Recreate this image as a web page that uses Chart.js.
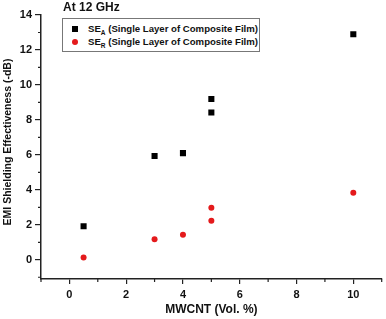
<!DOCTYPE html>
<html>
<head>
<meta charset="utf-8">
<script src="https://cdn.jsdelivr.net/npm/chart.js@4.4.0/dist/chart.umd.min.js"></script>
<style>
  body { margin: 0; background: #fff; }
  #wrap { position: relative; width: 386px; height: 319px; }
  #legendBox {
    position: absolute; left: 62px; top: 18px; width: 196px; height: 32px;
    border: 1px solid #777; background: #fff;
    font: bold 9.6px "Liberation Sans", Arial, sans-serif; color: #111;
  }
  .row { position: absolute; left: 0; height: 12px; line-height: 12px; white-space: nowrap; }
  .row span.txt { position: absolute; left: 25px; }
  .row sub { font-size: 6.5px; vertical-align: -3px; line-height: 0; }
  .mk { position: absolute; left: 9px; top: 3px; width: 6px; height: 6px; }
</style>
</head>
<body>
<div id="wrap">
  <canvas id="emiChart" width="386" height="319"></canvas>
  <div id="legendBox">
    <div class="row" style="top:4px"><div class="mk" style="background:#000"></div><span class="txt">SE<sub>A</sub> (Single Layer of Composite Film)</span></div>
    <div class="row" style="top:17px"><div class="mk" style="background:#e41a1c;border-radius:50%"></div><span class="txt">SE<sub>R</sub> (Single Layer of Composite Film)</span></div>
  </div>
</div>
<script>
// MWCNT loading (Vol. %)
const mwcnt = [0.5, 3, 4, 5, 5, 10];
// shielding by absorption / reflection (-dB)
const seA = [1.92, 5.94, 6.1, 8.42, 9.2, 12.9];
const seR = [0.13, 1.18, 1.43, 2.23, 2.97, 3.83];
const xTicks = [0, 2, 4, 6, 8, 10];
const yTicks = [0, 2, 4, 6, 8, 10, 12, 14];

const FONT = '"Liberation Sans", Arial, sans-serif';

// minor ticks, chart title, y axis title
const extras = {
  id: 'extras',
  afterDraw(chart) {
    const ctx = chart.ctx;
    const xs = chart.scales.x, ys = chart.scales.y;
    ctx.save();
    ctx.strokeStyle = '#222';
    ctx.lineWidth = 1.2;
    ctx.beginPath();
    for (let v = -1; v <= 11; v += 2) {
      const px = xs.getPixelForValue(v);
      ctx.moveTo(px, xs.top);
      ctx.lineTo(px, xs.top + 3);
    }
    for (let v = -1; v <= 13; v += 2) {
      const py = ys.getPixelForValue(v);
      ctx.moveTo(ys.right, py);
      ctx.lineTo(ys.right - 3, py);
    }
    ctx.stroke();
    ctx.fillStyle = '#111';
    ctx.font = 'bold 12px ' + FONT;
    ctx.textBaseline = 'middle';
    ctx.fillText('At 12 GHz', 63, 8);
    // rotated y title
    ctx.translate(8, 142);
    ctx.rotate(-Math.PI / 2);
    ctx.textAlign = 'center';
    ctx.font = 'bold 10.5px ' + FONT;
    ctx.fillText('EMI Shielding Effectiveness (-dB)', 0, 0);
    ctx.restore();
  }
};

const emiChart = new Chart(document.getElementById('emiChart'), {
  type: 'scatter',
  data: {
    datasets: [{
      label: 'SE_A',
      data: mwcnt.map((x, i) => ({ x: x, y: seA[i] })),
      pointStyle: 'rect',
      pointRadius: 4.3,
      backgroundColor: '#000',
      borderColor: '#000',
      borderWidth: 0
    },
    {
      label: 'SE_R',
      data: mwcnt.map((x, i) => ({ x: x, y: seR[i] })),
      pointStyle: 'circle',
      pointRadius: 3,
      backgroundColor: '#e41a1c',
      borderColor: '#e41a1c',
      borderWidth: 0
    }]
  },
  options: {
    responsive: false,
    animation: false,
    layout: { padding: { top: 15, right: 1, left: 0, bottom: 0 } },
    scales: {
      x: {
        type: 'linear',
        min: -1, max: 11,
        afterFit: (s) => { s.height = 40; },
        afterBuildTicks: (s) => { s.ticks = xTicks.map(v => ({ value: v })); },
        grid: { drawOnChartArea: false, tickLength: 5, color: '#222', lineWidth: 1.2 },
        border: { color: '#222', width: 1.5 },
        ticks: { color: '#111', font: { family: FONT, size: 11, weight: 'bold' }, padding: 4, maxRotation: 0 },
        title: { display: true, text: 'MWCNT (Vol. %)', color: '#111', font: { family: FONT, size: 12, weight: 'bold' }, padding: { top: 0, bottom: 2 } }
      },
      y: {
        min: -1.1, max: 14,
        afterFit: (s) => { s.width = 41; },
        afterBuildTicks: (s) => { s.ticks = yTicks.map(v => ({ value: v })); },
        grid: { drawOnChartArea: false, tickLength: 6, color: '#222', lineWidth: 1.2 },
        border: { color: '#222', width: 1.5 },
        ticks: { color: '#111', font: { family: FONT, size: 11, weight: 'bold' }, padding: 3 }
      }
    },
    plugins: {
      legend: { display: false },
      tooltip: { enabled: false }
    }
  },
  plugins: [extras]
});
</script>
</body>
</html>
